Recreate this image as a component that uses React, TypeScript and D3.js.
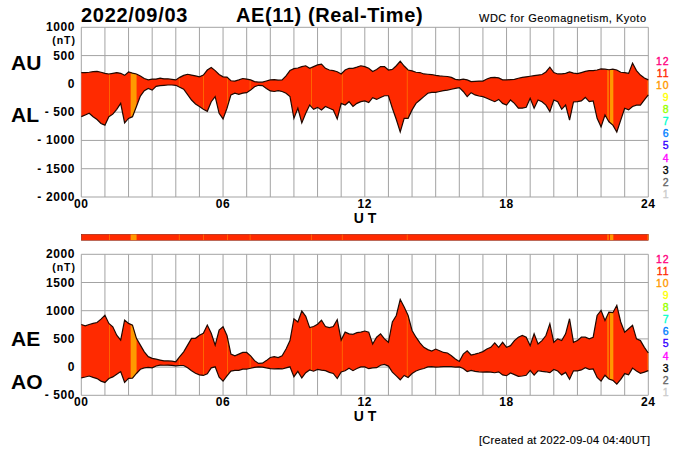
import * as d3 from 'd3';
import React from 'react';

// 10 minute readings, one row per hour, last value is 24:00
const auValues = [
  200, 200, 205, 215, 222, 205,
  187, 175, 187, 200, 187, 150,
  210, 190, 175, 140, 95, 70,
  85, 85, 100, 90, 90, 80,
  70, 115, 150, 170, 155, 140,
  125, 155, 245, 290, 235, 165,
  125, 120, 55, 50, 70, 95,
  85, 70, 40, 30, 30, 50,
  70, 75, 65, 70, 140, 235,
  270, 280, 305, 320, 275, 305,
  335, 350, 275, 245, 235, 215,
  175, 245, 275, 275, 295, 320,
  305, 275, 220, 255, 305, 305,
  245, 255, 320, 400, 315, 245,
  230, 205, 200, 175, 170, 165,
  150, 140, 135, 130, 115, 80,
  70, 85, 70, 40, 45, 50,
  50, 85, 110, 115, 105, 70,
  70, 75, 80, 100, 115, 125,
  135, 145, 155, 165, 210, 295,
  200, 175, 175, 185, 210, 190,
  180, 200, 220, 235, 235, 245,
  265, 260, 250, 260, 245, 205,
  200, 185, 365, 235, 155, 105,
  70,
];

const alValues = [
  -580, -550, -520, -580, -630, -700,
  -730, -580, -535, -450, -345, -690,
  -610, -580, -400, -215, -120, -80,
  -110, -45, -30, -25, -20, -20,
  -25, -60, -95, -190, -285, -355,
  -400, -450, -485, -315, -225, -520,
  -620, -430, -195, -165, -185, -165,
  -155, -110, -50, -25, -30, -80,
  -125, -135, -120, -135, -165, -225,
  -610, -430, -690, -520, -375, -450,
  -415, -460, -400, -430, -460, -620,
  -345, -375, -315, -400, -345, -315,
  -300, -330, -245, -275, -240, -210,
  -210, -430, -630, -850, -610, -610,
  -460, -345, -285, -225, -165, -150,
  -150, -135, -120, -110, -95, -80,
  -65, -135, -225, -155, -195, -215,
  -225, -255, -285, -315, -275, -345,
  -375, -285, -345, -430, -430, -415,
  -255, -430, -285, -315, -375, -490,
  -285, -315, -450, -375, -640, -320,
  -315, -300, -240, -315, -300, -610,
  -760, -550, -670, -730, -850, -640,
  -430, -460, -400, -375, -375, -285,
  -195,
];

const aeValues = [
  755, 730, 755, 775, 790, 850,
  920, 775, 715, 565, 480, 835,
  775, 745, 510, 390, 270, 185,
  155, 140, 125, 110, 110, 105,
  95, 185, 270, 390, 510, 510,
  565, 600, 745, 600, 390, 655,
  715, 560, 230, 200, 230, 260,
  260, 200, 115, 65, 70, 115,
  170, 185, 170, 200, 320, 470,
  857, 800, 995, 900, 700, 720,
  760, 830, 720, 700, 720, 840,
  480, 620, 590, 580, 610, 620,
  640, 620, 410, 530, 590, 500,
  440, 800, 915, 1200, 1065, 915,
  650, 530, 430, 350, 310, 285,
  320, 290, 260, 250, 200, 145,
  100, 230, 290, 215, 230, 250,
  275, 320, 350, 430, 350, 440,
  350, 380, 470, 530, 560, 530,
  380, 590, 410, 470, 560, 770,
  440, 500, 470, 590, 857, 440,
  470, 530, 530, 500, 530, 915,
  1005, 825, 975, 965, 1095, 800,
  620, 680, 740, 500, 470, 350,
  250,
];

const aoValues = [
  -190, -175, -158, -183, -204, -248,
  -272, -203, -174, -125, -79, -270,
  -200, -195, -113, -38, -13, -5,
  -13, 20, 35, 33, 35, 30,
  23, 28, 28, -10, -65, -108,
  -138, -148, -120, -13, 5, -178,
  -248, -155, -70, -58, -58, -35,
  -35, -20, -5, 3, 0, -15,
  -28, -30, -28, -33, -13, 5,
  -170, -75, -193, -100, -50, -73,
  -40, -55, -63, -93, -113, -203,
  -85, -65, -20, -63, -25, 3,
  3, -28, -13, -10, 33, 48,
  18, -88, -155, -225, -148, -183,
  -115, -70, -43, -25, 3, 8,
  0, 3, 8, 10, 10, 0,
  3, -25, -78, -58, -75, -83,
  -88, -85, -88, -100, -85, -138,
  -153, -105, -133, -165, -158, -145,
  -60, -143, -65, -75, -83, -98,
  -43, -70, -138, -95, -215, -65,
  -68, -50, -10, -40, -33, -183,
  -248, -145, -210, -235, -303, -218,
  -115, -138, -18, -70, -110, -90,
  -63,
];

// hours where only 10 stations reported
const bandStarts = [2.09, 22.27, 22.38, 23.97];
const bandEnds = [2.34, 22.32, 22.52, 24];
const thinBands = [1.18, 4.13, 5.16, 6.17, 7.13, 9.73, 11.03, 13.78];

const hourTicks = d3.range(0, 25);
const hourLabels = ['00', '06', '12', '18', '24'];
const topTicks = [1000, 500, 0, -500, -1000, -1500, -2000];
const bottomTicks = [2000, 1500, 1000, 500, 0, -500];
const stationLabels = ['12', '11', '10', '9', '8', '7', '6', '5', '4', '3', '2', '1'];
const stationColors = ['#ff0080', '#ff2a00', '#ff9900', '#ffff00', '#99ff00', '#00ffcc', '#0080ff', '#3300ff', '#ff00ff', '#000000', '#666666', '#cccccc'];

const FONT = '"Liberation Sans", Arial, sans-serif';
const RED = '#ff2a00';
const ORANGE = '#ff9900';

const x = d3.scaleLinear().domain([0, 24]).range([81.3, 648.3]);
const yTop = d3.scaleLinear().domain([-2000, 1000]).range([197, 27.3]);
const yBottom = d3.scaleLinear().domain([-500, 2000]).range([395.3, 254.3]);

const tickText = (v: number) => (v < 0 ? `- ${-v}` : `${v}`);

interface PanelProps {
  id: string;
  upper: number[];
  lower: number[];
  y: d3.ScaleLinear<number, number>;
  ticks: number[];
  legendTop: number;
}

const Panel: React.FC<PanelProps> = ({ id, upper, lower, y, ticks, legendTop }) => {
  const [y0, y1] = y.range();
  const area = d3
    .area<number>()
    .x((d, i) => x(i / 6))
    .y0((d, i) => y(lower[i]))
    .y1((d) => y(d));
  const line = d3
    .line<number>()
    .x((d, i) => x(i / 6))
    .y((d) => y(d));

  return (
    <g>
      <clipPath id={id}>
        <path d={area(upper) ?? ''} />
      </clipPath>
      <g stroke="#a3a3a3" strokeWidth="1">
        {hourTicks.map((h) => (
          <line key={h} x1={x(h)} x2={x(h)} y1={y0} y2={y1} />
        ))}
        {ticks.map((t) => (
          <line key={t} x1={x(0)} x2={x(24)} y1={y(t)} y2={y(t)} />
        ))}
      </g>
      <path d={area(upper) ?? ''} fill={RED} />
      <g clipPath={`url(#${id})`}>
        {bandStarts.map((s, i) => (
          <rect key={s} x={x(s)} width={x(bandEnds[i]) - x(s)} y={y1} height={y0 - y1} fill={ORANGE} />
        ))}
        {thinBands.map((h) => (
          <rect key={h} x={x(h)} width={0.7} y={y1} height={y0 - y1} fill={ORANGE} opacity={0.75} />
        ))}
      </g>
      <path d={line(upper) ?? ''} fill="none" stroke="#200800" strokeWidth="1.2" />
      <path d={line(lower) ?? ''} fill="none" stroke="#200800" strokeWidth="1.2" />
      <g fontWeight="bold" fontSize="12" fill="#000" letterSpacing="0.6">
        {ticks.map((t) => (
          <text key={t} x={75} y={y(t) + 4} textAnchor="end">
            {tickText(t)}
          </text>
        ))}
        <text x={76} y={y1 + 17} textAnchor="end" fontSize="10.5" letterSpacing="1">(nT)</text>
        {hourLabels.map((l) => (
          <text key={l} x={x(+l)} y={y0 + 11} textAnchor="middle">
            {l}
          </text>
        ))}
      </g>
      <text x={365} y={y0 + 26} fontSize="14" fontWeight="bold" textAnchor="middle">U T</text>
      <g fontSize="10.5" textAnchor="end" letterSpacing="0.9">
        {stationLabels.map((l, i) => (
          <text key={l} x={669.5} y={legendTop + i * 12.1 + 4} fill={stationColors[i]} stroke={stationColors[i]} strokeWidth="0.35">
            {l}
          </text>
        ))}
      </g>
    </g>
  );
};

const App: React.FC = () => (
  <svg width={700} height={450} fontFamily={FONT} style={{ position: 'absolute', left: 0, top: 0 }}>
    <rect width={700} height={450} fill="#fff" />
    <text x={81} y={22} fontSize="20" fontWeight="bold" letterSpacing="0.7">2022/09/03</text>
    <text x={236} y={22} fontSize="20" fontWeight="bold" letterSpacing="0.6">AE(11) (Real-Time)</text>
    <text x={479} y={22} fontSize="11" letterSpacing="0.5" stroke="#000" strokeWidth="0.15">WDC for Geomagnetism, Kyoto</text>

    <Panel id="top-clip" upper={auValues} lower={alValues} y={yTop} ticks={topTicks} legendTop={60.7} />

    <rect x={x(0)} width={x(24) - x(0)} y={234.3} height={6} fill={RED} stroke="#7a1500" strokeWidth="0.5" />
    {bandStarts.map((s, i) => (
      <rect key={s} x={x(s)} width={x(bandEnds[i]) - x(s)} y={234.5} height={5.6} fill={ORANGE} />
    ))}
    {thinBands.map((h) => (
      <rect key={h} x={x(h)} width={0.7} y={234.5} height={5.6} fill={ORANGE} opacity={0.75} />
    ))}

    <Panel id="bottom-clip" upper={aeValues} lower={aoValues} y={yBottom} ticks={bottomTicks} legendTop={258.7} />

    <g fontSize="21" fontWeight="bold">
      <text x={11} y={70}>AU</text>
      <text x={11} y={122}>AL</text>
      <text x={11} y={346}>AE</text>
      <text x={11} y={389}>AO</text>
    </g>
    <text x={479} y={444} fontSize="11" letterSpacing="0.3" stroke="#000" strokeWidth="0.15">[Created at 2022-09-04 04:40UT]</text>
  </svg>
);

export default App;
